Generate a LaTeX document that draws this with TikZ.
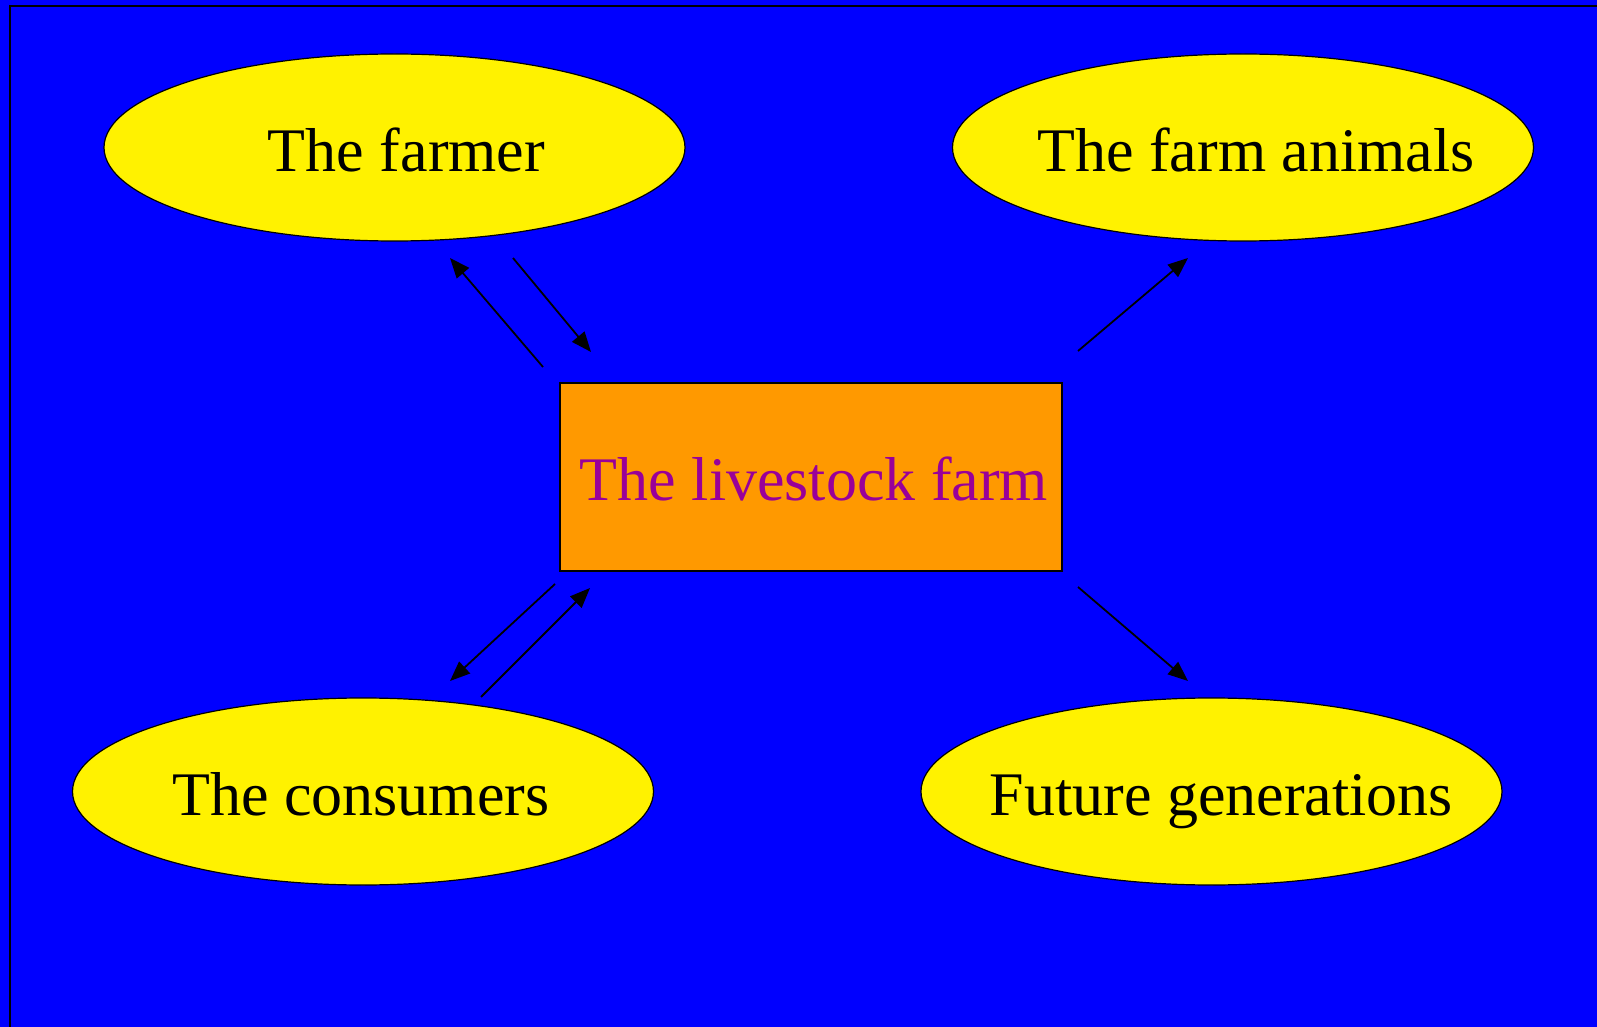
\documentclass[tikz,border=0pt]{standalone}
\usepackage{fontspec}
\setmainfont{Liberation Serif}
\usetikzlibrary{arrows.meta,shapes.geometric}

\definecolor{bgblue}{RGB}{0,0,255}
\definecolor{farmorange}{RGB}{255,153,0}
\definecolor{farmpurple}{RGB}{153,0,153}

\begin{document}
\begin{tikzpicture}[x=0.5pt,y=-0.5pt,
   actor/.style={ellipse,draw=black,line width=0.6pt,fill=yellow,
      minimum width=290.5pt,minimum height=93.5pt,inner sep=0pt,
      text height=27pt,text depth=3pt,
      font=\fontsize{31}{37}\selectfont},
   farm/.style={rectangle,draw=black,line width=0.8pt,fill=farmorange,
      minimum width=251pt,minimum height=94pt,inner sep=0pt,
      text height=27pt,text depth=3pt,
      text=farmpurple,font=\fontsize{31}{37}\selectfont},
   flow/.style={-{Triangle[length=10pt,width=8pt]},line width=0.9pt}]
   \useasboundingbox (0,0) rectangle (1597,1027);
   \fill[bgblue] (0,0) rectangle (1597,1027);
   \draw[line width=1pt] (10,1027) -- (10,6) -- (1597,6);

   \node[actor] (farmer)  at (394.5,147.5) {\makebox[0pt]{\hspace{12pt}The farmer}};
   \node[actor] (animals) at (1243,147.5)  {\makebox[0pt]{\hspace{13pt}The farm animals}};
   \node[actor] (consumers) at (363,791.5) {\makebox[0pt]{\hspace{-2pt}The consumers}};
   \node[actor] (future)  at (1211.5,791.5) {\makebox[0pt]{\hspace{10pt}Future generations}};
   \node[farm]  (livestock) at (811,477)  {\makebox[0pt]{\hspace{3pt}The livestock farm}};

   % free ends of the arrows
   \coordinate (f_out) at (543,367);  \coordinate (f_in) at (450,258);
   \coordinate (l_in)  at (591,352);  \coordinate (f_dep) at (513,258);
   \coordinate (c_out) at (555,584);  \coordinate (c_in) at (450,681);
   \coordinate (c_dep) at (481,697);  \coordinate (l_in2) at (590,588);
   \coordinate (a_dep) at (1078,351); \coordinate (a_in) at (1188,258);
   \coordinate (g_dep) at (1078,587); \coordinate (g_in) at (1188,681);

   \path[flow]
    (f_out) edge (f_in)
    (f_dep) edge (l_in)
    (c_out) edge (c_in)
    (c_dep) edge (l_in2)
    (a_dep) edge (a_in)
    (g_dep) edge (g_in);
\end{tikzpicture}
\end{document}
